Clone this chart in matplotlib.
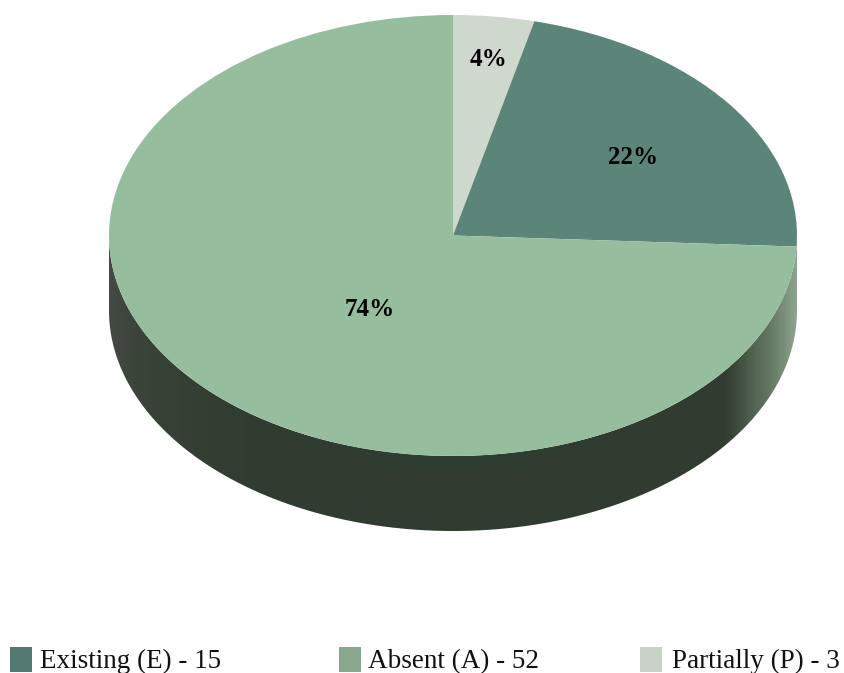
import matplotlib
matplotlib.use('Agg')
import matplotlib.pyplot as plt
from matplotlib.colors import LinearSegmentedColormap
from matplotlib.patches import PathPatch, Rectangle
from matplotlib.path import Path
import numpy as np

# data
categories = ['Existing (E)', 'Absent (A)', 'Partially (P)']
counts = [15, 52, 3]
percents = [22, 74, 4]
# slice shares as drawn in the picture (labels are rounded)
drawn_shares = [22.0, 74.2, 3.8]

# look
top_colors = ['#5b8579', '#96bd9e', '#cfd8cc']
legend_colors = ['#527a70', '#87a88d', '#c8d2c6']
W, H = 844, 673
cx, cy = 453, 235.5     # centre of the top ellipse, pixels
rx, ry = 344, 220.5
depth = 75 / ry

fig = plt.figure(figsize=(W / 100, H / 100), dpi=100, facecolor='white')
ax = fig.add_axes([0, 0, 1, 1])


def px(x, y):
    # image pixels to pie units
    return (x - cx) / rx, (cy - y) / ry


# side wall, shaded left to right
t = np.linspace(0, np.pi, 300)
wall_xy = np.vstack([
    np.column_stack([np.cos(t), -np.sin(t)]),
    np.column_stack([np.cos(t[::-1]), -np.sin(t[::-1]) - depth]),
])
wall_path = Path(np.vstack([wall_xy, wall_xy[:1]]), closed=True)

stops = [(109, '#424a41'), (150, '#384236'), (260, '#303c2f'), (725, '#303c2f'),
         (738, '#3c4a3b'), (750, '#4d5d4c'), (772, '#647864'), (797, '#8ca28c')]
wall_cmap = LinearSegmentedColormap.from_list(
    'wall', [((p - 109) / (797 - 109), c) for p, c in stops])
wall_img = ax.imshow(np.linspace(0, 1, 688)[None, :], cmap=wall_cmap, aspect='auto',
                     extent=(-1, 1, -1 - depth, 0.1), zorder=1)
clip = PathPatch(wall_path, transform=ax.transData, fc='none', ec='none')
ax.add_patch(clip)
wall_img.set_clip_path(clip)

# top face
sizes = [drawn_shares[2], drawn_shares[0], drawn_shares[1]]
colors = [top_colors[2], top_colors[0], top_colors[1]]
wedges, _ = ax.pie(sizes, colors=colors, startangle=90, counterclock=False, radius=1,
                   wedgeprops={'linewidth': 0, 'zorder': 2})

ax.set_box_aspect(None)
ax.set_aspect('auto')
ax.set_xlim(-cx / rx, (W - cx) / rx)
ax.set_ylim((cy - H) / ry, cy / ry)
ax.axis('off')

# percent labels
label_px = [(633, 158), (370, 309), (489, 59)]
for pct, (lx, ly) in zip(percents, label_px):
    ux, uy = px(lx, ly)
    ax.text(ux, uy, f'{pct}%', ha='center', va='center', fontsize=18,
            fontweight='bold', family='Liberation Serif', color='black', zorder=5)

# legend along the bottom edge, runs off the page slightly
box_x = [10, 339, 640]
text_x = [40, 368, 672]
for name, n, col, bx, tx in zip(categories, counts, legend_colors, box_x, text_x):
    x0, y0 = px(bx, 672)
    x1, y1 = px(bx + 22, 647)
    ax.add_patch(Rectangle((x0, y0), x1 - x0, y1 - y0, fc=col, ec='none', zorder=5))
    ux, uy = px(tx, 668)
    ax.text(ux, uy, f'{name} - {n}', ha='left', va='baseline', fontsize=19.5,
            family='Liberation Serif', color='#111111', zorder=5)

fig.savefig('out.png', dpi=100, facecolor='white')
